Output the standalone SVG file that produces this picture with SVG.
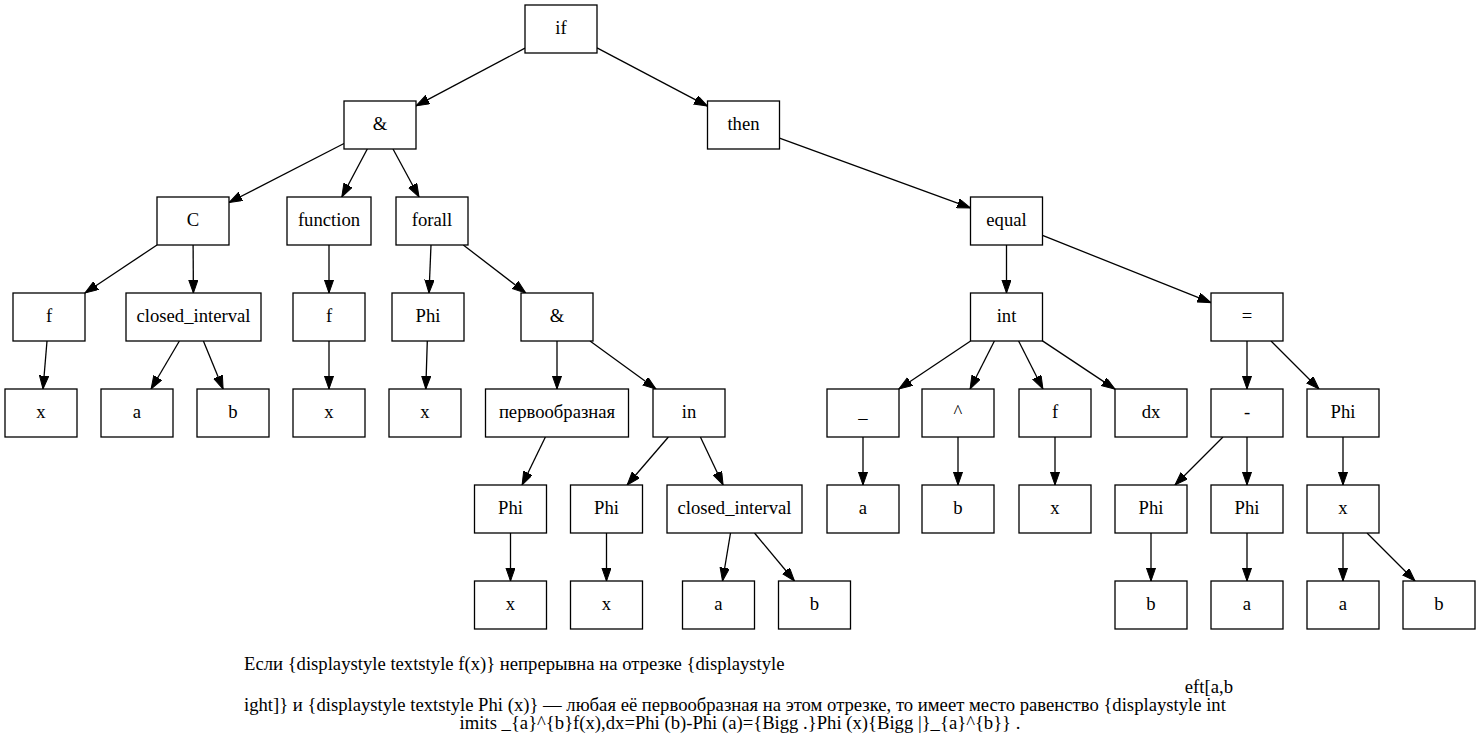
<svg xmlns="http://www.w3.org/2000/svg" width="1480" height="747" viewBox="0 0 1480 747">
  <style>
    .node rect { fill: #ffffff; stroke: #000000; stroke-width: 1.3; }
    .node text, .caption { font-family: "Liberation Serif", "Times New Roman", serif; font-size: 18.67px; fill: #000000; }
    .node text { text-anchor: middle; }
    #edges line { stroke: #000000; stroke-width: 1.3; marker-end: url(#arrow); }
  </style>
  <defs>
    <marker id="arrow" markerUnits="userSpaceOnUse" markerWidth="14" markerHeight="10" refX="13.3" refY="4.67" orient="auto">
      <path d="M0,0 L13.3,4.67 L0,9.34 Z" fill="#000000" stroke="#000000" stroke-width="1"/>
    </marker>
  </defs>
  <rect x="0" y="0" width="1480" height="747" fill="#ffffff"/>

  <!-- connectors -->
  <g id="edges">
    <line x1="525" y1="48.1" x2="416" y2="105.9"/>
    <line x1="597" y1="47.9" x2="707.5" y2="106.1"/>
    <line x1="344" y1="143.5" x2="229" y2="202.5"/>
    <line x1="367.3" y1="149" x2="341.8" y2="197"/>
    <line x1="393" y1="149" x2="419" y2="197"/>
    <line x1="779.5" y1="138.1" x2="970.5" y2="207.9"/>
    <line x1="157" y1="245" x2="85" y2="293"/>
    <line x1="193.1" y1="245" x2="193.4" y2="293"/>
    <line x1="329" y1="245" x2="329" y2="293"/>
    <line x1="431" y1="245" x2="429" y2="293"/>
    <line x1="463.3" y1="245" x2="525.8" y2="293"/>
    <line x1="1006.5" y1="245" x2="1006.5" y2="293"/>
    <line x1="1042.5" y1="235.4" x2="1211" y2="302.6"/>
    <line x1="47" y1="341" x2="43" y2="389"/>
    <line x1="179.4" y1="341" x2="151.1" y2="389"/>
    <line x1="203.4" y1="341" x2="223.1" y2="389"/>
    <line x1="329" y1="341" x2="329" y2="389"/>
    <line x1="427.3" y1="341" x2="425.8" y2="389"/>
    <line x1="557" y1="341" x2="557" y2="389"/>
    <line x1="590" y1="341" x2="656" y2="389"/>
    <line x1="970.6" y1="341" x2="898.9" y2="389"/>
    <line x1="994.4" y1="341" x2="970.1" y2="389"/>
    <line x1="1018.6" y1="341" x2="1042.9" y2="389"/>
    <line x1="1042.5" y1="340.9" x2="1115" y2="389.1"/>
    <line x1="1247" y1="341" x2="1247" y2="389"/>
    <line x1="1271" y1="341" x2="1319" y2="389"/>
    <line x1="545.4" y1="437" x2="522.1" y2="485"/>
    <line x1="668.4" y1="437" x2="627.1" y2="485"/>
    <line x1="700.4" y1="437" x2="723.1" y2="485"/>
    <line x1="863" y1="437" x2="863" y2="485"/>
    <line x1="958" y1="437" x2="958" y2="485"/>
    <line x1="1055" y1="437" x2="1055" y2="485"/>
    <line x1="1223" y1="437" x2="1175" y2="485"/>
    <line x1="1247" y1="437" x2="1247" y2="485"/>
    <line x1="1343" y1="437" x2="1343" y2="485"/>
    <line x1="510.5" y1="533" x2="510.5" y2="581"/>
    <line x1="606.5" y1="533" x2="606.5" y2="581"/>
    <line x1="730.5" y1="533" x2="722.5" y2="581"/>
    <line x1="754.5" y1="533" x2="794.5" y2="581"/>
    <line x1="1151" y1="533" x2="1151" y2="581"/>
    <line x1="1247" y1="533" x2="1247" y2="581"/>
    <line x1="1343" y1="533" x2="1343" y2="581"/>
    <line x1="1367" y1="533" x2="1415" y2="581"/>
  </g>

  <!-- row 1 -->
  <g id="n_if" class="node"><rect x="525" y="5" width="72" height="48"/><text x="561" y="34">if</text></g>
  <!-- row 2 -->
  <g id="n_and1" class="node"><rect x="344" y="101" width="72" height="48"/><text x="380" y="130">&amp;</text></g>
  <g id="n_then" class="node"><rect x="707.5" y="101" width="72" height="48"/><text x="743.5" y="130">then</text></g>
  <!-- row 3 -->
  <g id="n_C" class="node"><rect x="157" y="197" width="72" height="48"/><text x="193" y="226">C</text></g>
  <g id="n_function" class="node"><rect x="287" y="197" width="84" height="48"/><text x="329" y="226">function</text></g>
  <g id="n_forall" class="node"><rect x="396" y="197" width="72" height="48"/><text x="432" y="226">forall</text></g>
  <g id="n_equal" class="node"><rect x="970.5" y="197" width="72" height="48"/><text x="1006.5" y="226">equal</text></g>
  <!-- row 4 -->
  <g id="n_f1" class="node"><rect x="13" y="293" width="72" height="48"/><text x="49" y="322">f</text></g>
  <g id="n_ci1" class="node"><rect x="126" y="293" width="135" height="48"/><text x="193.5" y="322">closed_interval</text></g>
  <g id="n_f2" class="node"><rect x="293" y="293" width="72" height="48"/><text x="329" y="322">f</text></g>
  <g id="n_Phi1" class="node"><rect x="392" y="293" width="72" height="48"/><text x="428" y="322">Phi</text></g>
  <g id="n_and2" class="node"><rect x="521" y="293" width="72" height="48"/><text x="557" y="322">&amp;</text></g>
  <g id="n_int" class="node"><rect x="970.5" y="293" width="72" height="48"/><text x="1006.5" y="322">int</text></g>
  <g id="n_eq" class="node"><rect x="1211" y="293" width="72" height="48"/><text x="1247" y="322">=</text></g>
  <!-- row 5 -->
  <g id="n_x1" class="node"><rect x="5" y="389" width="72" height="48"/><text x="41" y="418">x</text></g>
  <g id="n_a1" class="node"><rect x="101" y="389" width="72" height="48"/><text x="137" y="418">a</text></g>
  <g id="n_b1" class="node"><rect x="197" y="389" width="72" height="48"/><text x="233" y="418">b</text></g>
  <g id="n_x2" class="node"><rect x="293" y="389" width="72" height="48"/><text x="329" y="418">x</text></g>
  <g id="n_x3" class="node"><rect x="389" y="389" width="72" height="48"/><text x="425" y="418">x</text></g>
  <g id="n_perv" class="node"><rect x="485.5" y="389" width="143" height="48"/><text x="557" y="418">первообразная</text></g>
  <g id="n_in" class="node"><rect x="653" y="389" width="72" height="48"/><text x="689" y="418">in</text></g>
  <g id="n_sub" class="node"><rect x="827" y="389" width="72" height="48"/><text x="863" y="418">_</text></g>
  <g id="n_sup" class="node"><rect x="922" y="389" width="72" height="48"/><text x="958" y="418">^</text></g>
  <g id="n_f3" class="node"><rect x="1019" y="389" width="72" height="48"/><text x="1055" y="418">f</text></g>
  <g id="n_dx" class="node"><rect x="1115" y="389" width="72" height="48"/><text x="1151" y="418">dx</text></g>
  <g id="n_minus" class="node"><rect x="1211" y="389" width="72" height="48"/><text x="1247" y="418">-</text></g>
  <g id="n_Phi2" class="node"><rect x="1307" y="389" width="72" height="48"/><text x="1343" y="418">Phi</text></g>
  <!-- row 6 -->
  <g id="n_Phi3" class="node"><rect x="474.5" y="485" width="72" height="48"/><text x="510.5" y="514">Phi</text></g>
  <g id="n_Phi4" class="node"><rect x="570.5" y="485" width="72" height="48"/><text x="606.5" y="514">Phi</text></g>
  <g id="n_ci2" class="node"><rect x="667" y="485" width="135" height="48"/><text x="734.5" y="514">closed_interval</text></g>
  <g id="n_a2" class="node"><rect x="827" y="485" width="72" height="48"/><text x="863" y="514">a</text></g>
  <g id="n_b2" class="node"><rect x="922" y="485" width="72" height="48"/><text x="958" y="514">b</text></g>
  <g id="n_x4" class="node"><rect x="1019" y="485" width="72" height="48"/><text x="1055" y="514">x</text></g>
  <g id="n_Phi5" class="node"><rect x="1115" y="485" width="72" height="48"/><text x="1151" y="514">Phi</text></g>
  <g id="n_Phi6" class="node"><rect x="1211" y="485" width="72" height="48"/><text x="1247" y="514">Phi</text></g>
  <g id="n_x5" class="node"><rect x="1307" y="485" width="72" height="48"/><text x="1343" y="514">x</text></g>
  <!-- row 7 -->
  <g id="n_x6" class="node"><rect x="474.5" y="581" width="72" height="48"/><text x="510.5" y="610">x</text></g>
  <g id="n_x7" class="node"><rect x="570.5" y="581" width="72" height="48"/><text x="606.5" y="610">x</text></g>
  <g id="n_a3" class="node"><rect x="682.5" y="581" width="72" height="48"/><text x="718.5" y="610">a</text></g>
  <g id="n_b3" class="node"><rect x="778.5" y="581" width="72" height="48"/><text x="814.5" y="610">b</text></g>
  <g id="n_b4" class="node"><rect x="1115" y="581" width="72" height="48"/><text x="1151" y="610">b</text></g>
  <g id="n_a4" class="node"><rect x="1211" y="581" width="72" height="48"/><text x="1247" y="610">a</text></g>
  <g id="n_a5" class="node"><rect x="1307" y="581" width="72" height="48"/><text x="1343" y="610">a</text></g>
  <g id="n_b5" class="node"><rect x="1403" y="581" width="72" height="48"/><text x="1439" y="610">b</text></g>

  <!-- graph caption -->
  <g id="caption">
    <text class="caption" x="244" y="670">Если {displaystyle textstyle f(x)} непрерывна на отрезке {displaystyle</text>
    <text class="caption" x="1233" y="693" text-anchor="end">eft[a,b</text>
    <text class="caption" x="244" y="711">ight]} и {displaystyle textstyle Phi (x)} — любая её первообразная на этом отрезке, то имеет место равенство {displaystyle int</text>
    <text class="caption" x="740" y="729" text-anchor="middle">imits _{a}^{b}f(x),dx=Phi (b)-Phi (a)={Bigg .}Phi (x){Bigg |}_{a}^{b}} .</text>
  </g>
</svg>
